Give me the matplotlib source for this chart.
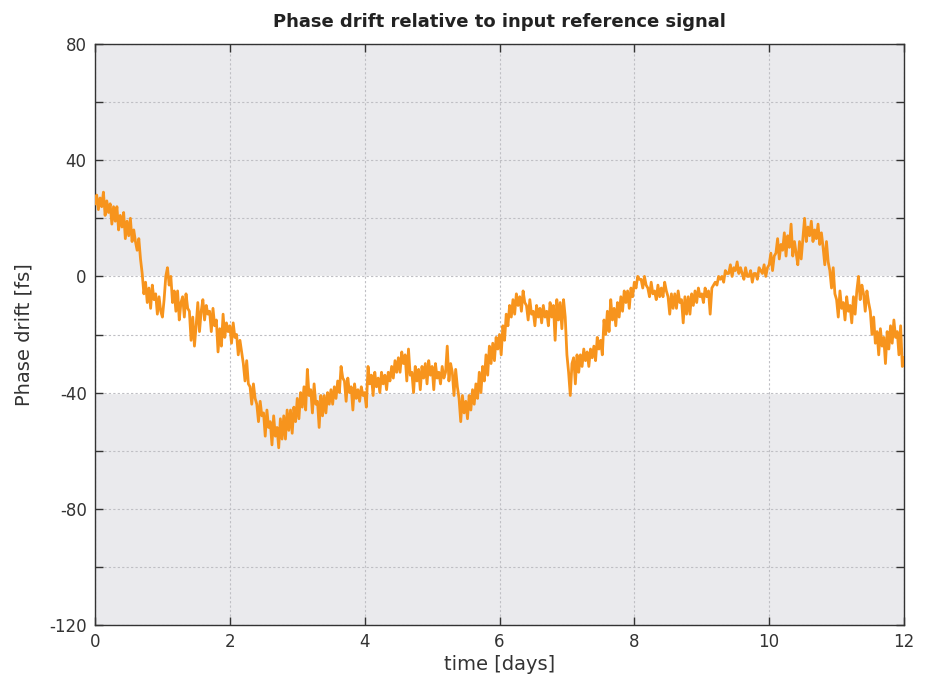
import numpy as np
import matplotlib
matplotlib.use("Agg")
import matplotlib.pyplot as plt
from matplotlib.ticker import MultipleLocator

# Phase drift samples (fs), 0.025-day spacing
drift_day0 = [25, 28, 23, 27, 24, 29, 21, 26, 22, 25, 18, 24, 19, 24, 16, 21,
              17, 22, 13, 19, 14, 20, 12, 16, 12, 9, 13, 6, 1, -6, -2, -9,
              -4, -11, -3, -8, -6, -13, -7, -12]
drift_day1 = [-14, -8, 0, 3, -3, 0, -9, -5, -12, -5, -15, -9, -7, -14, -6, -11,
              -12, -22, -14, -24, -17, -9, -19, -12, -8, -15, -10, -13, -12, -19, -11, -17,
              -15, -26, -18, -24, -13, -21, -16, -19]
drift_day2 = [-17, -23, -16, -21, -20, -27, -22, -26, -30, -36, -29, -37, -38, -44, -37, -42,
              -44, -50, -43, -48, -47, -55, -46, -52, -50, -58, -48, -55, -52, -59, -49, -56,
              -48, -56, -46, -53, -46, -54, -45, -50]
drift_day3 = [-42, -49, -40, -45, -38, -46, -32, -41, -39, -47, -37, -44, -43, -52, -41, -48,
              -41, -47, -40, -44, -39, -44, -38, -42, -36, -40, -31, -35, -36, -43, -35, -40,
              -38, -46, -37, -42, -39, -43, -38, -41]
drift_day4 = [-40, -45, -31, -37, -34, -41, -33, -38, -35, -40, -33, -37, -34, -39, -33, -36,
              -31, -35, -29, -33, -28, -33, -26, -30, -27, -36, -25, -34, -33, -40, -31, -36,
              -32, -39, -31, -35, -30, -37, -29, -34]
drift_day5 = [-31, -39, -30, -35, -33, -37, -31, -35, -33, -24, -36, -30, -33, -41, -32, -38,
              -42, -50, -41, -47, -43, -49, -41, -46, -39, -44, -37, -42, -33, -40, -31, -36,
              -27, -34, -24, -30, -23, -29, -21, -25]
drift_day6 = [-20, -27, -17, -22, -13, -17, -10, -14, -8, -13, -6, -10, -7, -12, -5, -9,
              -10, -15, -8, -13, -12, -17, -10, -14, -11, -16, -10, -14, -12, -17, -9, -14,
              -10, -22, -8, -15, -9, -18, -8, -14]
drift_day7 = [-27, -33, -41, -30, -28, -37, -27, -33, -27, -31, -25, -29, -26, -31, -25, -28,
              -24, -29, -21, -25, -22, -27, -15, -20, -12, -19, -8, -15, -11, -17, -9, -14,
              -7, -12, -5, -9, -5, -11, -4, -7]
drift_day8 = [-2, -4, 0, -1, -1, -4, 0, -3, -4, -7, -2, -6, -5, -8, -3, -7,
              -4, -7, -2, -5, -7, -13, -6, -11, -6, -11, -5, -9, -8, -16, -7, -13,
              -7, -13, -6, -10, -5, -9, -4, -7]
drift_day9 = [-6, -9, -4, -7, -5, -13, -4, -3, -2, -3, 0, -1, 0, -2, 2, 1,
              1, 4, 0, 3, 2, 5, 1, 3, 1, -1, 3, 0, 0, 2, -2, 1,
              1, -1, 3, 2, 1, 4, 0, 3]
drift_day10 = [4, 8, 2, 7, 8, 13, 6, 11, 9, 15, 7, 14, 10, 18, 7, 12,
               8, 4, 12, 6, 13, 20, 12, 17, 14, 19, 12, 16, 13, 18, 11, 15,
               10, 4, 12, 5, 2, -4, 3, -6]
drift_day11 = [-8, -14, -5, -11, -9, -15, -7, -12, -10, -16, -7, -13, -5, 0, -8, -3,
               -6, -12, -5, -9, -12, -20, -14, -23, -19, -27, -18, -24, -21, -30, -19, -25,
               -17, -23, -15, -21, -19, -27, -17, -31]
drift_end = [-28]

drift = (drift_day0 + drift_day1 + drift_day2 + drift_day3 + drift_day4 + drift_day5
         + drift_day6 + drift_day7 + drift_day8 + drift_day9 + drift_day10 + drift_day11
         + drift_end)
t_start, t_end = 0, 12
time_days = np.linspace(t_start, t_end, len(drift))

x_ticks = [0, 2, 4, 6, 8, 10, 12]
y_ticks = [-120, -80, -40, 0, 40, 80]

plt.rcParams['font.family'] = ['DejaVu Sans']
plt.rcParams['axes.unicode_minus'] = False
plt.rcParams['path.simplify'] = False

fig = plt.figure(figsize=(9.3, 6.8), dpi=100)
ax = fig.add_axes([95/930, 1-625/680, (904-95)/930, (625-44)/680])
ax.set_facecolor('#EAEAED')
ax.axhspan(-40, 0, color='white', zorder=0)

ax.plot(time_days, drift, color='#F7941D', lw=2.0, zorder=3)

ax.set_xlim(0, 12)
ax.set_ylim(-120, 80)
ax.set_xticks(x_ticks)
ax.set_yticks(y_ticks)
ax.yaxis.set_minor_locator(MultipleLocator(20))
ax.grid(True, which='major', color='#BFBFC4', ls=(0, (2, 2)), lw=0.8, zorder=1)
ax.grid(True, which='minor', axis='y', color='#BFBFC4', ls=(0, (2, 2)), lw=0.8, zorder=1)
ax.set_axisbelow(True)
ax.tick_params(which='both', direction='in', length=6, width=1, top=True, right=True,
               colors='#333333', labelcolor='#333333', labelsize=12, pad=6)
for s in ax.spines.values():
    s.set_color('#333333')
    s.set_linewidth(1)

ax.set_xlabel('time [days]', fontsize=14, color='#333333', labelpad=3)
ax.set_ylabel('Phase drift [fs]', fontsize=14, color='#333333', labelpad=11)
ax.set_title('Phase drift relative to input reference signal', fontsize=13,
             fontweight='bold', color='#222222', pad=12)

fig.savefig('out.png', dpi=100)
